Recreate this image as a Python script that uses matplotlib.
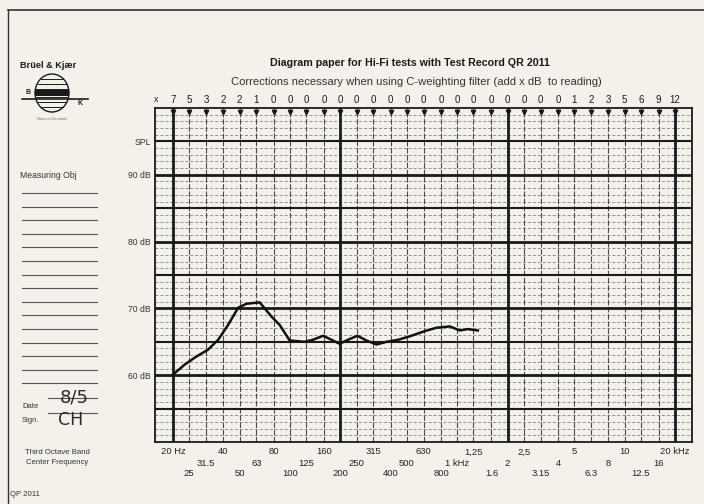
import matplotlib.pyplot as plt
from matplotlib.patches import Ellipse, Rectangle
from matplotlib.lines import Line2D
from matplotlib.transforms import blended_transform_factory

plt.rcParams['font.family'] = ['Liberation Sans', 'DejaVu Sans']

# third octave band centres (Hz) and their printed labels
bands = [20, 25, 31.5, 40, 50, 63, 80, 100, 125, 160, 200, 250, 315, 400, 500, 630,
         800, 1000, 1250, 1600, 2000, 2500, 3150, 4000, 5000, 6300, 8000, 10000,
         12500, 16000, 20000]
band_labels = ['20 Hz', '25', '31.5', '40', '50', '63', '80', '100', '125', '160', '200',
               '250', '315', '400', '500', '630', '800', '1 kHz', '1,25', '1.6', '2',
               '2,5', '3.15', '4', '5', '6.3', '8', '10', '12.5', '16', '20 kHz']
# C-weighting corrections printed above each band
corrections = [7, 5, 3, 2, 2, 1, 0, 0, 0, 0, 0, 0, 0, 0, 0, 0, 0, 0, 0, 0, 0, 0, 0, 0,
               1, 2, 3, 5, 6, 9, 12]

# hand drawn response curve
curve_freq = [20, 23.5, 27.6, 32.3, 37.2, 42.6, 49, 55, 65.9, 77.4, 86.9, 99.6, 122,
              137, 158, 177, 198, 222, 253, 286, 329, 378, 443, 532, 639, 750, 902,
              1035, 1157, 1327]
curve_db = [60.1, 61.6, 62.8, 63.8, 65.3, 67.5, 70.1, 70.7, 70.9, 68.8, 67.5, 65.2, 65.0,
            65.3, 65.9, 65.3, 64.7, 65.3, 65.9, 65.2, 64.6, 65.0, 65.3, 65.9, 66.6, 67.1,
            67.3, 66.7, 66.9, 66.7]

ytick_pos = [60, 70, 80, 90, 95]
ytick_labels = ['60 dB', '70 dB', '80 dB', '90 dB', 'SPL']

paper = '#f4f1ea'
ink = '#1a1a1a'

fig = plt.figure(figsize=(7.04, 5.04), dpi=100, facecolor=paper)
W, H = 704.0, 504.0
ax = fig.add_axes([155 / W, 1 - 442 / H, (692 - 155) / W, (442 - 108) / H])
ax.set_facecolor(paper)
ax.set_xscale('log')
ax.set_xlim(15.6, 25300)
ax.set_ylim(50, 100)

# grid: 1 dB lines, 5 dB and 10 dB lines heavier
for db in range(51, 100):
    if db % 10 == 0:
        ax.axhline(db, color=ink, lw=2.0, zorder=2)
    elif db % 5 == 0:
        ax.axhline(db, color=ink, lw=1.5, zorder=2)
    else:
        ax.axhline(db, color='#7a7a7a', lw=0.55, ls=(0, (4, 2.5)), zorder=1)
for f in bands:
    if f in (20, 200, 2000, 20000):
        ax.axvline(f, color=ink, lw=2.0, zorder=2)
    else:
        ax.axvline(f, color='#4a4a4a', lw=0.8, ls=(0, (5, 1.5)), zorder=1)

ax.plot(bands, [99.4] * len(bands), 'v', color=ink, ms=3.2, zorder=3)
ax.plot(curve_freq, curve_db, color='#111111', lw=1.8, zorder=4, solid_joinstyle='round')

for s in ax.spines.values():
    s.set_linewidth(1.3)
    s.set_color(ink)

ax.set_xticks([])
ax.minorticks_off()
ax.set_xticks([], minor=True)
ax.set_yticks(ytick_pos)
ax.set_yticklabels(ytick_labels, fontsize=6.2, color='#333333')
ax.tick_params(axis='y', length=0, pad=3)

# corrections row above the grid
top = blended_transform_factory(ax.transData, fig.transFigure)
fig.text(156 / W, 1 - 100 / H, 'x', fontsize=6.5, ha='center', va='center', color=ink)
for f, c in zip(bands, corrections):
    ax.text(f, 1 - 100 / H, str(c), transform=top, fontsize=7, ha='center',
            va='center', color=ink)

# three staggered rows of band labels below the grid
row_y = {0: 1 - 452 / H, 2: 1 - 463 / H, 1: 1 - 474 / H}
for i, (f, lab) in enumerate(zip(bands, band_labels)):
    ax.text(f, row_y[i % 3], lab, transform=top, fontsize=6.8, ha='center',
            va='center', color='#222222')

# titles
fig.text(410 / W, 1 - 63 / H, 'Diagram paper for Hi-Fi tests with Test Record QR 2011',
         fontsize=7.7, fontweight='bold', ha='center', va='center', color=ink)
fig.text(416 / W, 1 - 82 / H,
         'Corrections necessary when using C-weighting filter (add x dB  to reading)',
         fontsize=8.1, ha='center', va='center', color='#333333')

# left margin: company, logo, form lines
fig.text(20 / W, 1 - 65 / H, 'Brüel & Kjær', fontsize=6.6, fontweight='bold',
         va='center', color=ink)
cx, cy = 52 / W, 1 - 93 / H
fig.add_artist(Ellipse((cx, cy), 34 / W, 38 / H, fill=False, lw=1.0, color=ink))
for dy in (-14, -9, -4, 4, 9, 14):
    half = (1 - (dy / 19.0) ** 2) ** 0.5 * 16
    fig.add_artist(Line2D([cx - half / W, cx + half / W], [cy + dy / H] * 2,
                          lw=0.7, color=ink))
fig.add_artist(Rectangle((cx - 17 / W, cy - 3 / H), 34 / W, 6 / H, color=ink, lw=0))
fig.add_artist(Line2D([22 / W, 88 / W], [1 - 99 / H] * 2, lw=1.2, color=ink))
fig.text(28 / W, 1 - 93 / H, 'B', fontsize=5, fontweight='bold', ha='center',
         va='center', color=ink)
fig.text(80 / W, 1 - 104 / H, 'K', fontsize=5, fontweight='bold', ha='center',
         va='center', color=ink)
fig.text(52 / W, 1 - 119 / H, 'Naerum Denmark', fontsize=2.8, ha='center',
         va='center', color='#777777')

fig.text(20 / W, 1 - 175 / H, 'Measuring Obj', fontsize=6.2, va='center', color='#333333')
for k in range(15):
    y = 193 + 13.6 * k
    fig.add_artist(Line2D([22 / W, 97 / W], [1 - y / H] * 2, lw=0.8, color='#555555'))
fig.add_artist(Line2D([48 / W, 97 / W], [1 - 398 / H] * 2, lw=0.8, color='#555555'))
fig.add_artist(Line2D([48 / W, 97 / W], [1 - 413 / H] * 2, lw=0.8, color='#555555'))
fig.text(22 / W, 1 - 407 / H, 'Date', fontsize=5.5, va='center', color='#333333')
fig.text(22 / W, 1 - 420 / H, 'Sign.', fontsize=5.5, va='center', color='#333333')
fig.text(74 / W, 1 - 398 / H, '8/5', fontsize=13, ha='center', va='center',
         color='#2a2a2a', family='DejaVu Sans')
fig.text(71 / W, 1 - 420 / H, 'CH', fontsize=12.5, ha='center', va='center',
         color='#2a2a2a', family='DejaVu Sans')

fig.text(57 / W, 1 - 452 / H, 'Third Octave Band', fontsize=5.6, ha='center',
         va='center', color='#333333')
fig.text(57 / W, 1 - 462 / H, 'Center Frequency', fontsize=5.6, ha='center',
         va='center', color='#333333')
fig.text(10 / W, 1 - 494 / H, 'QP 2011', fontsize=5.6, va='center', color='#333333')

# outer frame of the sheet
fig.add_artist(Line2D([8 / W, 1.0], [1 - 10 / H] * 2, lw=1.2, color='#333333'))
fig.add_artist(Line2D([8 / W, 8 / W], [0, 1 - 10 / H], lw=1.0, color='#333333'))

fig.savefig('out.png', dpi=100, facecolor=paper)
